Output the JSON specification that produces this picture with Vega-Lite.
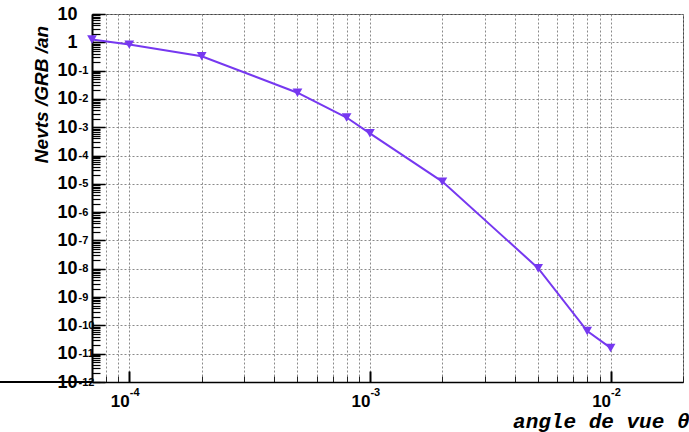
{
  "$schema": "https://vega.github.io/schema/vega-lite/v6.json",
  "width": 591,
  "height": 368,
  "autosize": {"type": "none"},
  "padding": {"left": 92, "top": 14, "right": 6, "bottom": 50},
  "background": "white",
  "config": {
    "view": {"stroke": "#444", "strokeWidth": 1},
    "axis": {"labelFlush": false, "labelOverlap": false, "labelBound": false}
  },
  "data": {
    "values": [
      {"theta": 7e-5, "n": 1.25},
      {"theta": 1e-4, "n": 0.83},
      {"theta": 2e-4, "n": 0.32},
      {"theta": 5e-4, "n": 0.0166},
      {"theta": 8e-4, "n": 0.0022},
      {"theta": 1e-3, "n": 0.00061},
      {"theta": 2e-3, "n": 1.2e-5},
      {"theta": 5e-3, "n": 1.05e-8},
      {"theta": 8e-3, "n": 6.3e-11},
      {"theta": 1e-2, "n": 1.6e-11}
    ]
  },
  "resolve": {"axis": {"x": "independent", "y": "independent"}},
  "layer": [
    {
      "mark": {"type": "line", "color": "#7638f0", "strokeWidth": 2, "clip": false},
      "encoding": {
        "x": {
          "field": "theta", "type": "quantitative",
          "scale": {"type": "log", "domain": [7e-5, 0.02], "nice": false, "zero": false},
          "axis": {
            "orient": "bottom",
            "values": [7e-5, 8e-5, 9e-5, 1e-4, 2e-4, 3e-4, 4e-4, 5e-4, 6e-4, 7e-4, 8e-4, 9e-4, 1e-3, 2e-3, 3e-3, 4e-3, 5e-3, 6e-3, 7e-3, 8e-3, 9e-3, 1e-2, 2e-2],
            "labels": false,
            "ticks": true, "tickSize": -6, "tickColor": "#222", "tickWidth": 1,
            "domain": true, "domainColor": "#000", "domainWidth": 1.5,
            "grid": true, "gridColor": "#8a8a8a", "gridDash": [2, 2], "gridWidth": 1,
            "title": "angle de vue θ",
            "titleFont": "Liberation Mono", "titleFontWeight": "bold", "titleFontStyle": "italic",
            "titleFontSize": 21, "titleColor": "#000",
            "titleAnchor": null, "titleX": 597, "titleY": 45, "titleAlign": "right", "titleBaseline": "alphabetic"
          }
        },
        "y": {
          "field": "n", "type": "quantitative",
          "scale": {"type": "log", "domain": [1e-12, 10], "nice": false, "zero": false},
          "axis": {
            "orient": "left",
            "values": [1e-12,2e-12,3e-12,4e-12,5e-12,6e-12,7e-12,8e-12,9e-12,1e-11,2e-11,3e-11,4e-11,5e-11,6e-11,7e-11,8e-11,9e-11,1e-10,2e-10,3e-10,4e-10,5e-10,6e-10,7e-10,8e-10,9e-10,1e-9,2e-9,3e-9,4e-9,5e-9,6e-9,7e-9,8e-9,9e-9,1e-8,2e-8,3e-8,4e-8,5e-8,6e-8,7e-8,8e-8,9e-8,1e-7,2e-7,3e-7,4e-7,5e-7,6e-7,7e-7,8e-7,9e-7,1e-6,2e-6,3e-6,4e-6,5e-6,6e-6,7e-6,8e-6,9e-6,1e-5,2e-5,3e-5,4e-5,5e-5,6e-5,7e-5,8e-5,9e-5,1e-4,2e-4,3e-4,4e-4,5e-4,6e-4,7e-4,8e-4,9e-4,1e-3,2e-3,3e-3,4e-3,5e-3,6e-3,7e-3,8e-3,9e-3,1e-2,2e-2,3e-2,4e-2,5e-2,6e-2,7e-2,8e-2,9e-2,0.1,0.2,0.3,0.4,0.5,0.6,0.7,0.8,0.9,1,2,3,4,5,6,7,8,9,10],
            "labels": false,
            "ticks": true, "tickSize": -8, "tickColor": "#000", "tickWidth": 1.2,
            "domain": true, "domainColor": "#000", "domainWidth": 2,
            "grid": false,
            "title": "Nevts /GRB /an",
            "titleFont": "Liberation Sans", "titleFontWeight": "bold", "titleFontStyle": "italic",
            "titleFontSize": 19, "titleColor": "#000",
            "titleAnchor": null, "titleAngle": 270, "titleX": -51, "titleY": 80, "titleAlign": "center", "titleBaseline": "middle"
          }
        }
      }
    },
    {
      "mark": {"type": "point", "shape": "triangle-down", "filled": true, "color": "#7638f0", "opacity": 1, "size": 95, "clip": false},
      "encoding": {
        "x": {
          "field": "theta", "type": "quantitative",
          "axis": {
            "orient": "bottom",
            "values": [1e-4, 1e-3, 1e-2],
            "labels": false,
            "ticks": true, "tickSize": -11, "tickColor": "#000", "tickWidth": 2,
            "domain": false, "grid": false, "title": null
          }
        },
        "y": {
          "field": "n", "type": "quantitative",
          "axis": {
            "orient": "left",
            "values": [1e-12,1e-11,1e-10,1e-9,1e-8,1e-7,1e-6,1e-5,1e-4,1e-3,1e-2,0.1,1,10],
            "labels": false,
            "ticks": true, "tickSize": -13, "tickColor": "#000", "tickWidth": 1.5,
            "domain": false,
            "grid": true, "gridColor": "#8a8a8a", "gridDash": [2, 2], "gridWidth": 1,
            "title": null
          }
        }
      }
    },
    {
      "mark": {"type": "point", "opacity": 0},
      "encoding": {
        "x": {
          "field": "theta", "type": "quantitative",
          "axis": {
            "orient": "bottom",
            "values": [1e-4, 1e-3, 1e-2],
            "labelExpr": "'10'",
            "labelFont": "Liberation Sans", "labelFontWeight": "bold", "labelFontSize": 17, "labelColor": "#000",
            "labelAlign": "right", "labelBaseline": "middle", "labelPadding": 19, "labelDx": 1,
            "ticks": false, "domain": false, "grid": false, "title": null
          }
        },
        "y": {
          "field": "n", "type": "quantitative",
          "axis": {
            "orient": "left",
            "values": [1e-12,1e-11,1e-10,1e-9,1e-8,1e-7,1e-6,1e-5,1e-4,1e-3,1e-2,0.1,1,10],
            "labelExpr": "(datum.value > 0.5 && datum.value < 2) ? '1' : '10'",
            "labelFont": "Liberation Sans", "labelFontWeight": "bold", "labelFontSize": 18, "labelColor": "#000",
            "labelAlign": "right", "labelBaseline": "middle", "labelPadding": 15, "labelDy": 2,
            "ticks": false, "domain": false, "grid": false, "title": null
          }
        }
      }
    },
    {
      "mark": {"type": "rule", "color": "#000", "strokeWidth": 1.5, "clip": false},
      "encoding": {
        "x": {
          "datum": 2.9e-5, "type": "quantitative",
          "axis": {
            "orient": "bottom",
            "values": [1e-4, 1e-3, 1e-2],
            "labelExpr": "'-' + round(-log(datum.value) / LN10)",
            "labelFont": "Liberation Sans", "labelFontWeight": "bold", "labelFontSize": 11, "labelColor": "#000",
            "labelAlign": "left", "labelBaseline": "middle", "labelPadding": 10, "labelDx": 2,
            "ticks": false, "domain": false, "grid": false, "title": null
          }
        },
        "x2": {"datum": 7e-5},
        "y": {
          "datum": 1e-12, "type": "quantitative",
          "axis": {
            "orient": "left",
            "values": [1e-12,1e-11,1e-10,1e-9,1e-8,1e-7,1e-6,1e-5,1e-4,1e-3,1e-2,0.1],
            "labelExpr": "'-' + round(-log(datum.value) / LN10)",
            "labelFont": "Liberation Sans", "labelFontWeight": "bold", "labelFontSize": 11, "labelColor": "#000",
            "labelAlign": "left", "labelBaseline": "middle", "labelPadding": 14, "labelDy": -10,
            "ticks": false, "domain": false, "grid": false, "title": null
          }
        }
      }
    }
  ]
}
